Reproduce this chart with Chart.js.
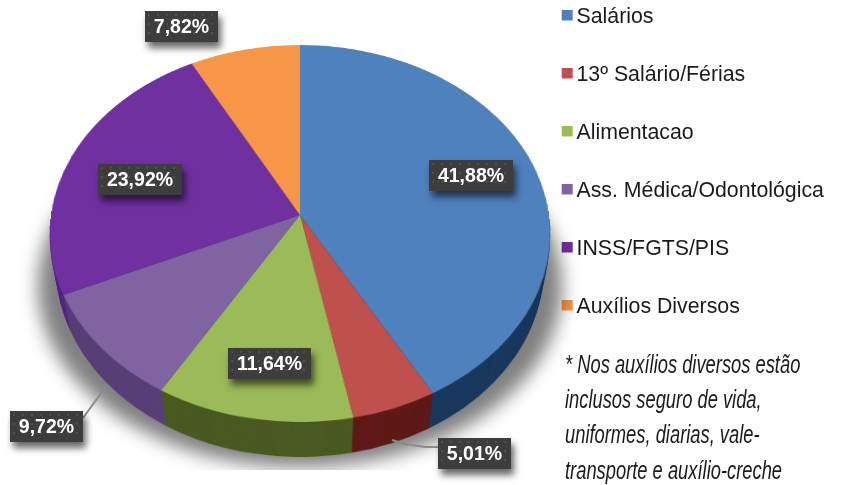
<!DOCTYPE html>
<html>
<head>
<meta charset="utf-8">
<script src="https://cdn.jsdelivr.net/npm/chart.js@4"></script>
<style>
body { margin: 0; background: #fff; }
#wrap { position: relative; width: 842px; height: 485px; overflow: hidden; }
#nota { position: absolute; left: 565px; top: 347px; width: 400px; transform-origin: 0 0; transform: scaleX(0.705);
	font: italic 26px/35.2px "Liberation Sans", sans-serif; color: #1a1a1a; white-space: nowrap; }
</style>
</head>
<body>
<div id="wrap">
	<canvas id="grafico" width="842" height="485"></canvas>
	<div id="nota">* Nos auxílios diversos estão<br>inclusos seguro de vida,<br>uniformes, diarias, vale-<br>transporte e auxílio-creche</div>
</div>
<script>
var categorias = ['Salários', '13º Salário/Férias', 'Alimentacao', 'Ass. Médica/Odontológica', 'INSS/FGTS/PIS', 'Auxílios Diversos'];
var valores = [41.88, 5.01, 11.64, 9.72, 23.92, 7.82];
var cores = ['#4f81bd', '#c0504d', '#9bbb59', '#8064a2', '#7030a0', '#f79646'];
var coresLado = ['#1b3a5f', '#5f1b18', '#4b5a22', '#5a4078', '#55288a', '#b06a2c'];

// perspective of the tilted pie: apex on the page, half sizes and the tilt factor
var centroX = 300, centroY = 215;
var meioX = 249, meioY = 186.7, tilt = 0.098, altura = 35;
var R = 250;

// label box moved away from its slice, and the thin lines to the outside boxes
var desvioRotulo = [[5, -7], [110, 107], [1, 10], [-117, 120], [1, 6], [-79, -70]];
var linhas = [null, [[392, 440], [405, 444], [425, 447], [438, 447]], null, [[107, 385], [83, 418]], null, null];

function textoValor(v) {
	return v.toFixed(2).replace('.', ',') + '%';
}

function amostra(cor) {
	// legend swatch, the wide canvas keeps the text close to the square
	var c = document.createElement('canvas');
	c.width = 22; c.height = 15;
	var x = c.getContext('2d');
	x.fillStyle = cor;
	x.fillRect(9, 0, 11, 11);
	return c;
}

// the flat round pie, drawn by the chart's own arcs on a spare canvas
function pizzaPlana(arcos, lista) {
	var c = document.createElement('canvas');
	c.width = 2 * R; c.height = 2 * R;
	var o = c.getContext('2d');
	var r = arcos[0].outerRadius;
	for (var i = 0; i < arcos.length; i++) {
		var copia = Object.create(arcos[i]);
		copia.options = {backgroundColor: lista[i], borderColor: lista[i], borderWidth: 0, borderRadius: 0, borderAlign: 'center', offset: 0, spacing: 0, circular: true};
		o.save();
		o.translate(R, R);
		o.scale(R / r, R / r);
		o.translate(-arcos[i].x, -arcos[i].y);
		copia.draw(o);
		o.restore();
	}
	return c;
}

function vDeY(Y) {
	return Y / (meioY + tilt * Y);
}

// lays the flat pie down row by row
function deitaPizza(ctx, plana, dy, soBaixo) {
	var encolhe = 1 - 0.0008 * dy;
	var y0 = soBaixo ? centroY : 45;
	for (var y = y0; y < 423; y++) {
		var v0 = Math.max(-1, vDeY(y - centroY));
		var v1 = Math.min(1, vDeY(y + 1 - centroY));
		if (v1 <= v0) continue;
		var w = 1 - tilt * (v0 + v1) / 2;
		var meia = meioX * encolhe / w;
		ctx.drawImage(plana, 0, R + v0 * R, 2 * R, (v1 - v0) * R, centroX - meia, y + dy, 2 * meia, 1);
	}
}

var pizza3d = {
	id: 'pizza3d',
	afterLayout: function(chart) {
		chart.legend.left = 561.5 - 36.7;
		chart.legend.top = 6.35 - 36.7;
	},
	beforeDatasetsDraw: function(chart) {
		var ctx = chart.ctx;
		var arcos = chart.getDatasetMeta(0).data;
		var plana = pizzaPlana(arcos, cores);
		var lado = pizzaPlana(arcos, coresLado);

		// soft shadow under the pie, the shape itself stays off the page
		ctx.save();
		ctx.beginPath();
		ctx.rect(0, 0, 842, 470);
		ctx.clip();
		ctx.shadowColor = 'rgba(0,0,0,0.5)';
		ctx.shadowBlur = 18;
		ctx.shadowOffsetX = 2000;
		ctx.drawImage(lado, 38 - 2000, 105, 524, 362);
		ctx.restore();

		for (var d = altura; d > 0; d--) {
			deitaPizza(ctx, lado, d, true);
		}
		deitaPizza(ctx, plana, 0, false);
		return false;
	},
	afterDraw: function(chart) {
		var ctx = chart.ctx;
		var arcos = chart.getDatasetMeta(0).data;

		ctx.save();
		ctx.strokeStyle = '#8a8a8a';
		ctx.lineWidth = 2;
		for (var i = 0; i < linhas.length; i++) {
			if (!linhas[i]) continue;
			ctx.beginPath();
			ctx.moveTo(linhas[i][0][0], linhas[i][0][1]);
			for (var j = 1; j < linhas[i].length; j++) {
				ctx.lineTo(linhas[i][j][0], linhas[i][j][1]);
			}
			ctx.stroke();
		}
		ctx.restore();

		ctx.font = 'bold 19.5px "Liberation Sans", Arial, sans-serif';
		ctx.textAlign = 'center';
		ctx.textBaseline = 'middle';
		for (var i = 0; i < arcos.length; i++) {
			var meio = (arcos[i].startAngle + arcos[i].endAngle) / 2;
			var u = Math.cos(meio) * 0.7, v = Math.sin(meio) * 0.7;
			var x = centroX + meioX * u / (1 - tilt * v) + desvioRotulo[i][0];
			var y = centroY + meioY * v / (1 - tilt * v) + desvioRotulo[i][1];
			var texto = textoValor(valores[i]);
			var w = Math.round(ctx.measureText(texto).width + 18);
			var h = 31;
			var bx = Math.round(x - w / 2), by = Math.round(y - h / 2);

			ctx.save();
			ctx.shadowColor = 'rgba(0,0,0,0.6)';
			ctx.shadowBlur = 7;
			ctx.shadowOffsetX = 3;
			ctx.shadowOffsetY = 6;
			ctx.fillStyle = '#3d3d3d';
			ctx.fillRect(bx, by, w, h);
			ctx.restore();

			// the dotted texture of the boxes
			ctx.fillStyle = 'rgba(255,255,255,0.10)';
			for (var px = bx + 3; px < bx + w - 1; px += 9) {
				for (var py = by + 3; py < by + h - 1; py += 9) {
					ctx.fillRect(px, py, 2, 2);
				}
			}

			ctx.fillStyle = '#fff';
			ctx.fillText(texto, bx + w / 2, by + h / 2 + 1);
		}
	}
};

var ctx = document.getElementById('grafico').getContext('2d');
var myChart = new Chart(ctx, {
	type: 'pie',
	data: {
		labels: categorias,
		datasets: [{data: valores, backgroundColor: cores, borderWidth: 0}]
	},
	options: {
		responsive: false,
		animation: false,
		plugins: {
			tooltip: {enabled: false},
			legend: {
				position: 'right',
				align: 'start',
				labels: {
					color: '#1a1a1a',
					font: {family: '"Liberation Sans", Arial, sans-serif', size: 21.3},
					usePointStyle: true,
					boxWidth: 4.35,
					boxHeight: 11,
					padding: 36.7,
					generateLabels: function(chart) {
						var itens = Chart.overrides.doughnut.plugins.legend.labels.generateLabels(chart);
						for (var i = 0; i < itens.length; i++) {
							itens[i].pointStyle = amostra(cores[i]);
						}
						return itens;
					}
				}
			}
		}
	},
	plugins: [pizza3d]
});
</script>
</body>
</html>
